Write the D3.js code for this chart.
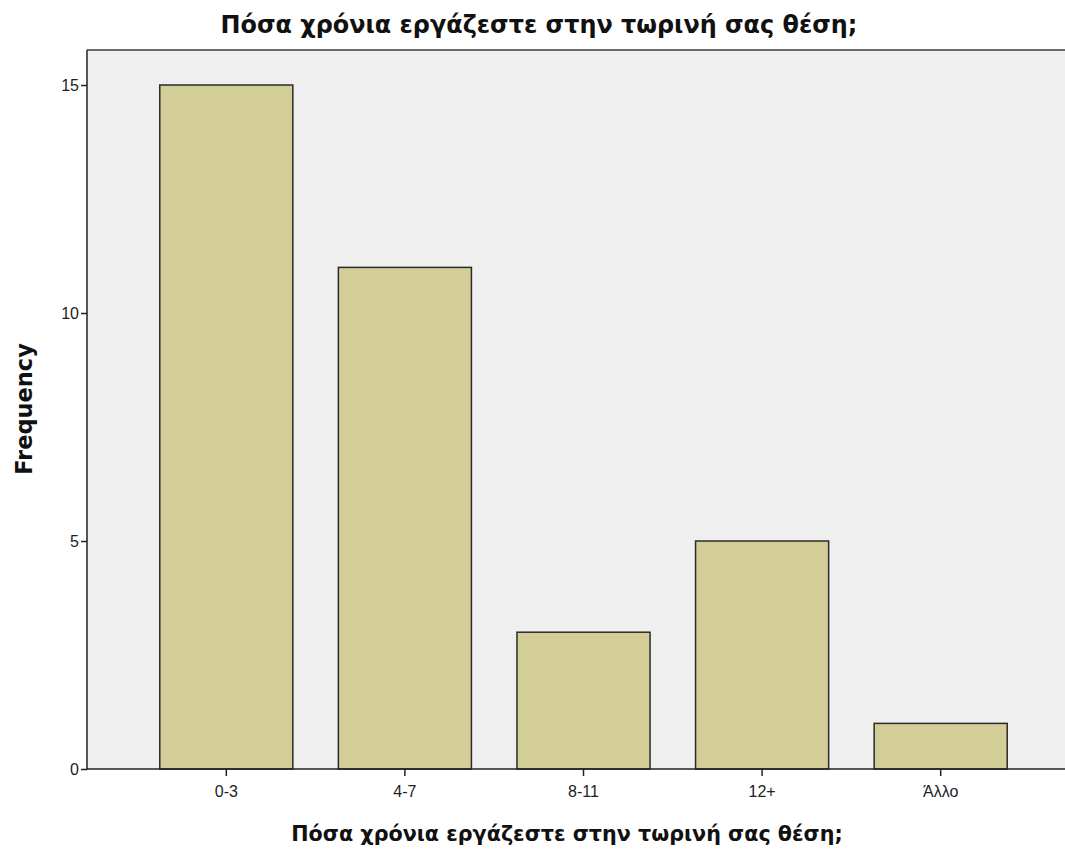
<!DOCTYPE html>
<html><head><meta charset="utf-8">
<script src="https://cdn.jsdelivr.net/npm/d3@7"></script>
<style>body{margin:0;background:#fff}svg{display:block}</style>
</head><body>
<script>
const categories = ["0-3", "4-7", "8-11", "12+", "Άλλο"];
const frequencies = [15, 11, 3, 5, 1];
const yTicks = [0, 5, 10, 15];
const titleText = "Πόσα χρόνια εργάζεστε στην τωρινή σας θέση;";
const xTitle = "Πόσα χρόνια εργάζεστε στην τωρινή σας θέση;";
const yTitle = "Frequency";

const W = 1065, H = 850;
const svg = d3.select("body").append("svg").attr("width", W).attr("height", H);
const plotL = 87, plotT = 50, plotB = 769;

const x = d3.scaleBand().domain(categories).range([137, 1030]).paddingInner(0.255).paddingOuter(0.1275);
const y = d3.scaleLinear().domain([0, 15]).range([plotB, 85]);

svg.append("rect").attr("x", plotL).attr("y", plotT).attr("width", W - plotL).attr("height", plotB - plotT).attr("fill", "#efefef");
svg.append("line").attr("x1", plotL).attr("x2", W).attr("y1", plotT).attr("y2", plotT).attr("stroke", "#6a6a6a").attr("stroke-width", 2);

svg.selectAll("rect.bar").data(frequencies).enter().append("rect").attr("class", "bar")
  .attr("x", (d, i) => x(categories[i]))
  .attr("y", d => y(d))
  .attr("width", x.bandwidth())
  .attr("height", d => plotB - y(d))
  .attr("fill", "#d3ce97").attr("stroke", "#2a2a2a").attr("stroke-width", 1.5);

const yAxis = svg.append("g").attr("transform", `translate(${plotL},0)`)
  .call(d3.axisLeft(y).tickValues(yTicks).tickSize(6).tickPadding(2));
const xAxis = svg.append("g").attr("transform", `translate(0,${plotB})`)
  .call(d3.axisBottom(x).tickSize(7).tickPadding(10).tickSizeOuter(0));
[yAxis, xAxis].forEach(g => {
  g.select(".domain").remove();
  g.selectAll("line").attr("stroke", "#222").attr("stroke-width", 1.5);
  g.selectAll("text").attr("font-family", "Liberation Sans, Arial, sans-serif").attr("font-size", 16).attr("fill", "#222");
});
svg.append("line").attr("x1", plotL).attr("x2", plotL).attr("y1", plotT).attr("y2", plotB + 0.75).attr("stroke", "#222").attr("stroke-width", 1.5);
svg.append("line").attr("x1", plotL).attr("x2", W).attr("y1", plotB).attr("y2", plotB).attr("stroke", "#222").attr("stroke-width", 1.5);

svg.append("text").attr("x", 539).attr("y", 33).attr("text-anchor", "middle")
  .attr("font-family", "DejaVu Sans, sans-serif").attr("font-size", 23.9).attr("font-weight", "bold").attr("fill", "#111")
  .text(titleText);
svg.append("text").attr("x", 567).attr("y", 841).attr("text-anchor", "middle")
  .attr("font-family", "DejaVu Sans, sans-serif").attr("font-size", 20.7).attr("font-weight", "bold").attr("fill", "#111")
  .text(xTitle);
svg.append("text").attr("transform", "translate(32,409) rotate(-90)").attr("text-anchor", "middle")
  .attr("font-family", "DejaVu Sans, sans-serif").attr("font-size", 22.5).attr("font-weight", "bold").attr("fill", "#111")
  .text(yTitle);
</script>
</body></html>
